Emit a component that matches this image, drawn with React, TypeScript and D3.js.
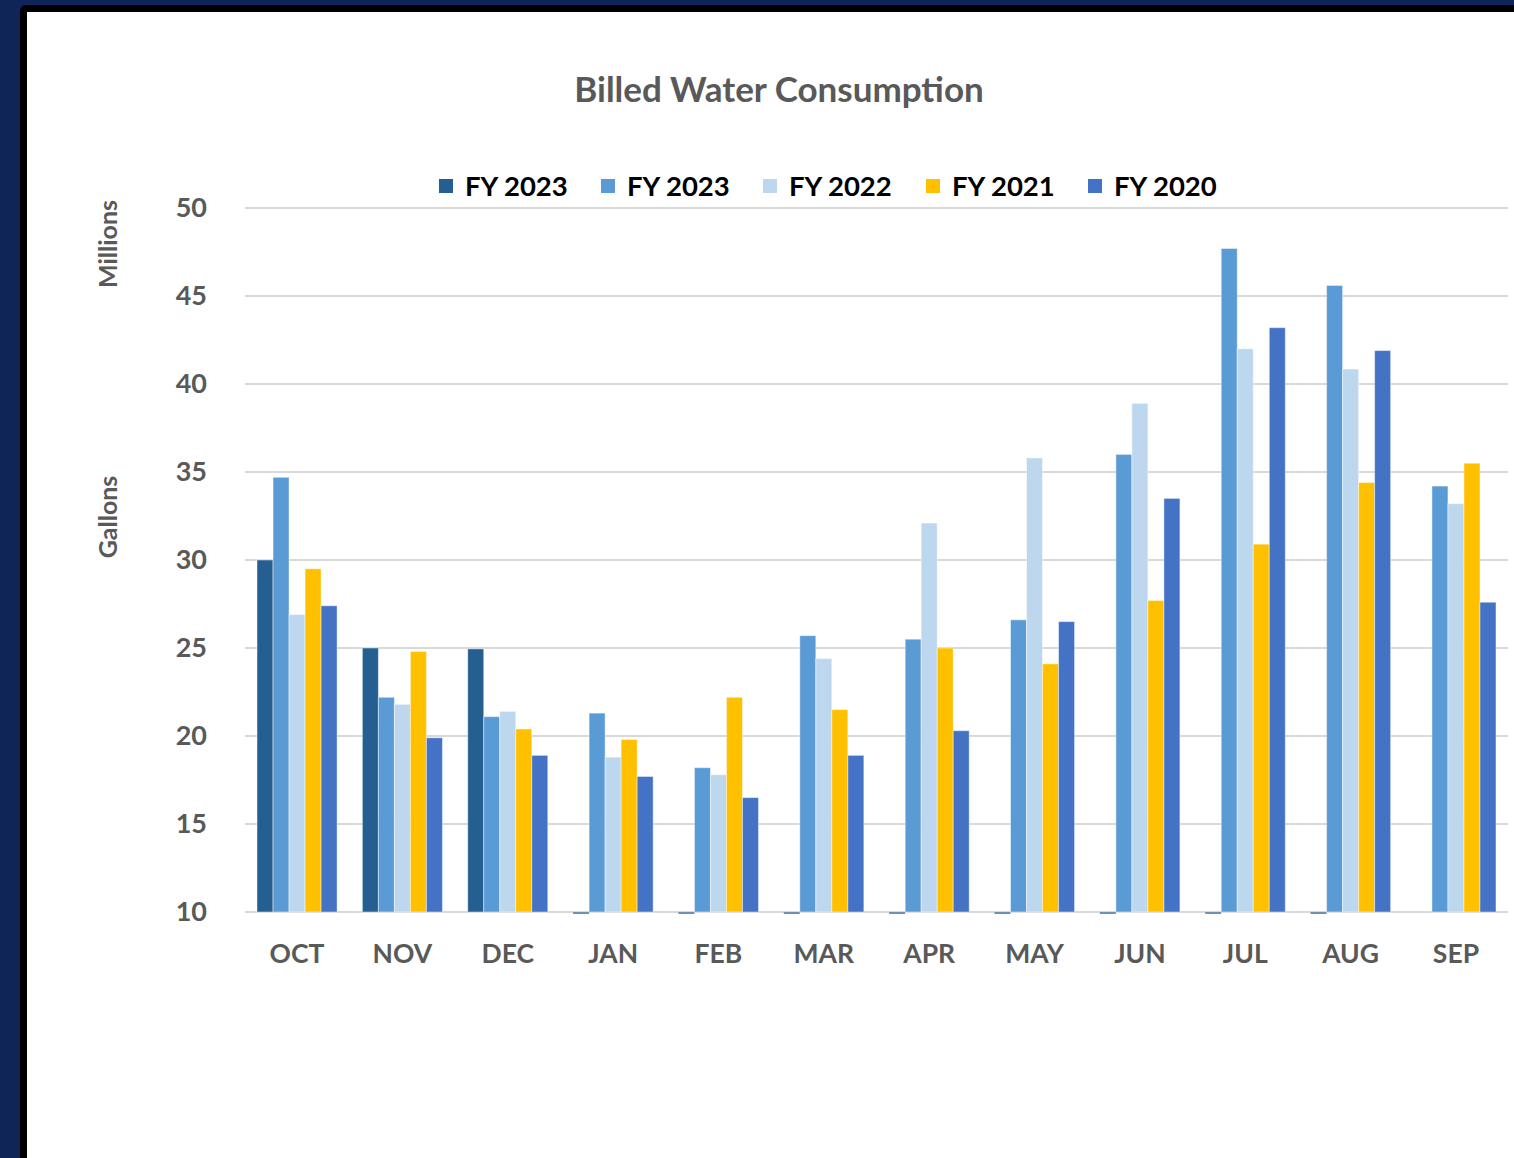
import React from "react";
import * as d3 from "d3";

const months = ["OCT", "NOV", "DEC", "JAN", "FEB", "MAR", "APR", "MAY", "JUN", "JUL", "AUG", "SEP"];
const seriesIds = ["fy2023a", "fy2023b", "fy2022", "fy2021", "fy2020"];
const seriesNames = ["FY 2023", "FY 2023", "FY 2022", "FY 2021", "FY 2020"];
const seriesColors = ["#255E91", "#5B9BD5", "#BDD7EE", "#FFC000", "#4472C4"];
// values in millions of gallons; 0 = zero (drawn as a dash below the axis), null = missing
const fy2023a: (number | null)[] = [30.0, 25.0, 24.95, 0, 0, 0, 0, 0, 0, 0, 0, null];
const fy2023b = [34.7, 22.2, 21.1, 21.3, 18.2, 25.7, 25.5, 26.6, 36.0, 47.7, 45.6, 34.2];
const fy2022 = [26.9, 21.8, 21.4, 18.8, 17.8, 24.4, 32.1, 35.8, 38.9, 42.0, 40.85, 33.2];
const fy2021 = [29.5, 24.8, 20.4, 19.8, 22.2, 21.5, 25.0, 24.1, 27.7, 30.9, 34.4, 35.5];
const fy2020 = [27.4, 19.9, 18.9, 17.7, 16.5, 18.9, 20.3, 26.5, 33.5, 43.2, 41.9, 27.6];
const seriesValues = [fy2023a, fy2023b, fy2022, fy2021, fy2020];
const yTicks = [10, 15, 20, 25, 30, 35, 40, 45, 50];

const W = 1514;
const H = 1158;
const FONT = "Lato, 'Open Sans', sans-serif";

export default function App() {
  const x = d3.scaleBand<string>().domain(months).range([245, 1508]).paddingInner(0.24).paddingOuter(0.114);
  const xs = d3.scaleBand<string>().domain(seriesIds).range([0, x.bandwidth()]);
  const y = d3.scaleLinear().domain([10, 50]).range([912, 208]);

  const legendX = [439, 601, 763, 926, 1088];

  return (
    <div style={{ position: "absolute", left: 0, top: 0, width: W, height: H }}>
      <svg width={W} height={H} style={{ display: "block" }}>
        <rect x={0} y={0} width={W} height={H} fill="#0F2557" />
        <rect x={20} y={5} width={W} height={H} rx={6} fill="#000" />
        <rect x={27} y={12} width={W} height={H} fill="#fff" />

        <text x={779} y={102} textAnchor="middle" fontFamily={FONT} fontWeight={700} fontSize={35} fill="#595959">
          Billed Water Consumption
        </text>

        {yTicks.map((t) => (
          <g key={t}>
            <line x1={245} x2={1508} y1={y(t)} y2={y(t)} stroke="#D9D9D9" strokeWidth={2} />
            <text x={207} y={y(t) + 9} textAnchor="end" fontFamily={FONT} fontWeight={700} fontSize={27} fill="#595959">
              {t}
            </text>
          </g>
        ))}

        {seriesIds.map((id, si) => (
          <g key={id}>
            {months.map((m, mi) => {
              const v = seriesValues[si][mi];
              if (v === null || v === undefined) return null;
              const bx = (x(m) as number) + (xs(id) as number);
              if (v <= 10) {
                return <rect key={m} x={bx} y={y(10)} width={xs.bandwidth()} height={2} fill="#6F8FB5" />;
              }
              return (
                <rect
                  key={m}
                  x={bx}
                  y={y(v)}
                  width={xs.bandwidth()}
                  height={y(10) - y(v)}
                  fill={seriesColors[si]}
                  stroke="#ffffff"
                  strokeOpacity={0.45}
                  strokeWidth={1}
                />
              );
            })}
          </g>
        ))}

        {months.map((m) => (
          <text key={m} x={(x(m) as number) + x.bandwidth() / 2} y={963} textAnchor="middle" fontFamily={FONT} fontWeight={700} fontSize={26.5} fill="#595959">
            {m}
          </text>
        ))}

        <text transform="translate(117,244) rotate(-90)" textAnchor="middle" fontFamily={FONT} fontWeight={700} fontSize={25} fill="#595959">
          Millions
        </text>
        <text transform="translate(117,517) rotate(-90)" textAnchor="middle" fontFamily={FONT} fontWeight={700} fontSize={25} fill="#595959">
          Gallons
        </text>

        {seriesIds.map((id, i) => (
          <g key={id}>
            <rect x={legendX[i]} y={179} width={14} height={14} fill={seriesColors[i]} />
            <text x={legendX[i] + 26} y={196} fontFamily={FONT} fontWeight={700} fontSize={27.5} fill="#000">
              {seriesNames[i]}
            </text>
          </g>
        ))}
      </svg>
    </div>
  );
}
